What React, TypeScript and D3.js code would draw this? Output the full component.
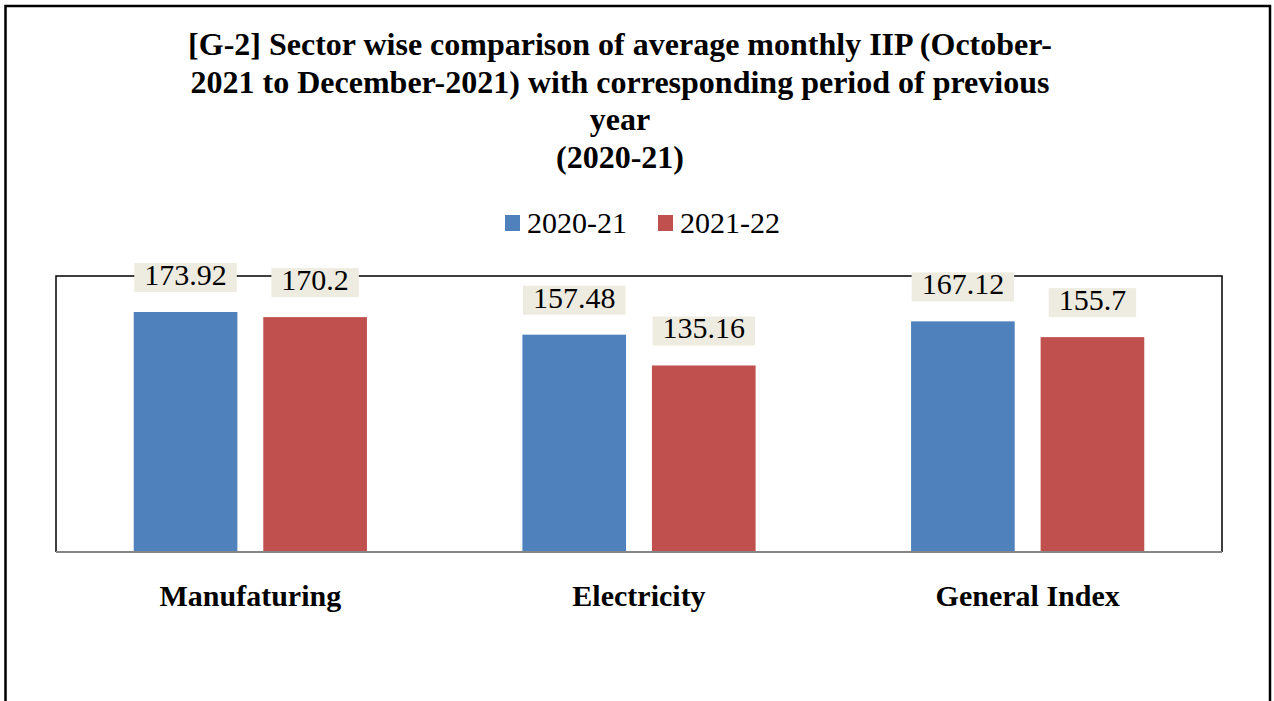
import React from "react";
import * as d3 from "d3";

// chart values
const categories = ["Manufaturing", "Electricity", "General Index"];
const seriesNames = ["2020-21", "2021-22"];
const values2020 = [173.92, 157.48, 167.12];
const values2021 = [170.2, 135.16, 155.7];
const seriesColors = ["#4F81BD", "#C0504D"];
const titleLines = [
    "[G-2] Sector wise comparison of average monthly IIP (October-",
    "2021 to December-2021) with corresponding period of previous",
    "year",
    "(2020-21)",
];

export default function App() {
    const ref = React.useRef<SVGSVGElement>(null);

    React.useEffect(() => {
        drawChart();
    }, []);

    function drawChart() {
        const svg = d3.select(ref.current);
        svg.selectAll("*").remove();

        const width = 1274;
        const height = 701;
        const plot = { left: 56, right: 1222, top: 276, bottom: 552 };
        const font = "'Liberation Serif', 'Times New Roman', serif";

        svg.append("rect")
            .attr("width", width)
            .attr("height", height)
            .attr("fill", "white");

        // outer frame
        svg.append("rect")
            .attr("x", 5.5)
            .attr("y", 6)
            .attr("width", 1264.5)
            .attr("height", 800)
            .attr("fill", "none")
            .attr("stroke", "black")
            .attr("stroke-width", 2.5);

        // title
        svg.selectAll("text.title")
            .data(titleLines)
            .enter()
            .append("text")
            .attr("class", "title")
            .attr("x", 620)
            .attr("y", (d, i) => 55 + i * 37.5)
            .attr("text-anchor", "middle")
            .attr("font-family", font)
            .attr("font-weight", "bold")
            .attr("font-size", 32)
            .text((d) => d);

        // legend
        const legendX = [505, 658];
        seriesNames.forEach((name, i) => {
            svg.append("rect")
                .attr("x", legendX[i])
                .attr("y", 215)
                .attr("width", 15)
                .attr("height", 16)
                .attr("fill", seriesColors[i]);
            svg.append("text")
                .attr("x", legendX[i] + 22)
                .attr("y", 233)
                .attr("font-family", font)
                .attr("font-size", 30)
                .text(name);
        });

        const x0 = d3
            .scaleBand()
            .domain(categories)
            .range([plot.left, plot.right])
            .paddingInner(0.4)
            .paddingOuter(0.2);

        const x1 = d3
            .scaleBand()
            .domain(seriesNames)
            .range([0, x0.bandwidth()])
            .paddingInner(0.2);

        const y = d3
            .scaleLinear()
            .domain([0, 200])
            .range([plot.bottom, plot.top]);

        // plot area frame
        svg.append("path")
            .attr(
                "d",
                `M${plot.left},${plot.bottom}V${plot.top}H${plot.right}V${plot.bottom}`
            )
            .attr("fill", "none")
            .attr("stroke", "black")
            .attr("stroke-width", 1.5);

        const rows = categories.map((c, i) => ({
            category: c,
            values: [values2020[i], values2021[i]],
        }));

        const groups = svg
            .selectAll("g.group")
            .data(rows)
            .enter()
            .append("g")
            .attr("class", "group")
            .attr("transform", (d) => `translate(${x0(d.category)},0)`);

        groups
            .selectAll("rect.bar")
            .data((d) => d.values.map((v, i) => ({ key: seriesNames[i], value: v, i })))
            .enter()
            .append("rect")
            .attr("class", "bar")
            .attr("x", (d) => x1(d.key))
            .attr("y", (d) => y(d.value))
            .attr("width", x1.bandwidth())
            .attr("height", (d) => y(0) - y(d.value))
            .attr("fill", (d) => seriesColors[d.i]);

        // data labels with beige boxes
        groups.each(function (row) {
            const g = d3.select(this);
            row.values.forEach((v, i) => {
                const cx = x1(seriesNames[i]) + x1.bandwidth() / 2;
                const top = y(v);
                const box = g.append("rect").attr("fill", "#EEECE1");
                const t = g
                    .append("text")
                    .attr("x", cx)
                    .attr("y", top - 27)
                    .attr("text-anchor", "middle")
                    .attr("font-family", font)
                    .attr("font-size", 30)
                    .text(String(v));
                const w = (t.node() as SVGTextElement).getComputedTextLength();
                box.attr("x", cx - w / 2 - 10)
                    .attr("y", top - 49)
                    .attr("width", w + 20)
                    .attr("height", 29);
            });
        });

        // baseline
        svg.append("line")
            .attr("x1", plot.left)
            .attr("x2", plot.right)
            .attr("y1", plot.bottom)
            .attr("y2", plot.bottom)
            .attr("stroke", "#868686")
            .attr("stroke-width", 2);

        // category labels
        svg.selectAll("text.cat")
            .data(categories)
            .enter()
            .append("text")
            .attr("class", "cat")
            .attr("x", (d) => x0(d) + x0.bandwidth() / 2)
            .attr("y", 606)
            .attr("text-anchor", "middle")
            .attr("font-family", font)
            .attr("font-weight", "bold")
            .attr("font-size", 30)
            .text((d) => d);
    }

    return (
        <svg
            ref={ref}
            width={1274}
            height={701}
            style={{ position: "absolute", left: 0, top: 0 }}
        />
    );
}
